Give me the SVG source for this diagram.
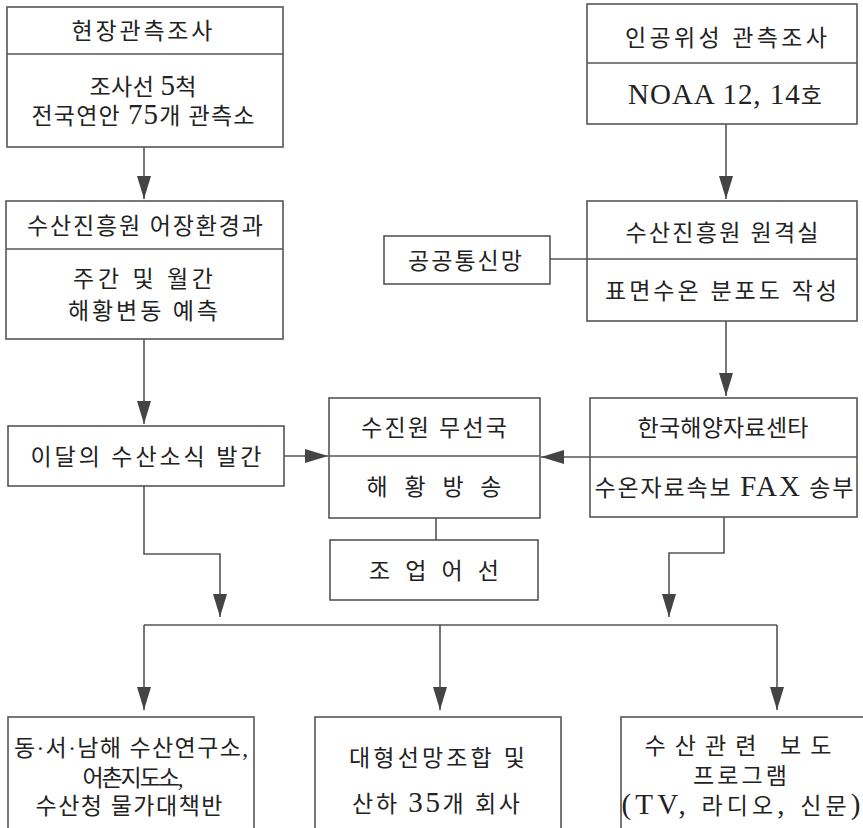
<svg xmlns="http://www.w3.org/2000/svg" width="863" height="828" viewBox="0 0 863 828">
<defs>
<style>
.bx{fill:#fff;stroke:#555;stroke-width:1.6}
.dv{stroke:#555;stroke-width:1.6;fill:none}
.cn{stroke:#555;stroke-width:1.6;fill:none}
.ar{marker-end:url(#ah)}
text{font-family:"Liberation Serif","Noto Sans CJK KR",serif;font-size:23px;fill:#222;text-anchor:middle}
.L{font-size:29px}
</style>
<marker id="ah" markerWidth="24" markerHeight="14" refX="23" refY="7" orient="auto" markerUnits="userSpaceOnUse">
<path d="M0,0 L23,7 L0,14 z" fill="#444"/>
</marker>
</defs>
<rect width="863" height="828" fill="#fff"/>

<g id="connectors">
<line class="cn ar" x1="144" y1="147" x2="144" y2="199"/>
<line class="cn ar" x1="726" y1="124" x2="726" y2="199"/>
<line class="cn" x1="550" y1="259" x2="587" y2="259"/>
<line class="cn ar" x1="144" y1="339" x2="144" y2="424"/>
<line class="cn ar" x1="726" y1="321" x2="726" y2="396"/>
<line class="cn ar" x1="284" y1="456" x2="328" y2="456"/>
<line class="cn ar" x1="590" y1="457" x2="541" y2="457"/>
<line class="cn" x1="436" y1="518" x2="436" y2="540"/>
<polyline class="cn ar" points="144,486 144,554 220,554 220,617"/>
<polyline class="cn ar" points="724,517 724,553 669,553 669,617"/>
<line class="cn" x1="144" y1="625" x2="777" y2="625"/>
<line class="cn ar" x1="144" y1="625" x2="144" y2="710"/>
<line class="cn ar" x1="440" y1="625" x2="440" y2="710"/>
<line class="cn ar" x1="777" y1="625" x2="777" y2="710"/>
</g>

<g id="n_field">
<rect class="bx" x="7" y="7" width="276" height="140"/>
<line class="dv" x1="7" y1="54" x2="283" y2="54"/>
<text x="142" y="39" textLength="141" lengthAdjust="spacing">현장관측조사</text>
<text x="143" y="95" textLength="107" lengthAdjust="spacing">조사선 <tspan class="L">5</tspan>척</text>
<text x="143" y="124" textLength="223" lengthAdjust="spacing">전국연안 <tspan class="L">75</tspan>개 관측소</text>
</g>

<g id="n_sat">
<rect class="bx" x="587" y="4" width="270" height="120"/>
<line class="dv" x1="587" y1="63" x2="857" y2="63"/>
<text x="726" y="46" textLength="202" lengthAdjust="spacing">인공위성 관측조사</text>
<text x="725" y="104" textLength="194" lengthAdjust="spacing"><tspan class="L">NOAA 12, 14</tspan>호</text>
</g>

<g id="n_env">
<rect class="bx" x="6" y="201" width="277" height="138"/>
<line class="dv" x1="6" y1="249" x2="283" y2="249"/>
<text x="145" y="234" textLength="236" lengthAdjust="spacing">수산진흥원 어장환경과</text>
<text x="143" y="287" textLength="140" lengthAdjust="spacing">주간 및 월간</text>
<text x="143" y="319" textLength="150" lengthAdjust="spacing">해황변동 예측</text>
</g>

<g id="n_remote">
<rect class="bx" x="587" y="201" width="270" height="120"/>
<line class="dv" x1="587" y1="259" x2="857" y2="259"/>
<text x="722" y="241" textLength="193" lengthAdjust="spacing">수산진흥원 원격실</text>
<text x="721" y="299" textLength="232" lengthAdjust="spacing">표면수온 분포도 작성</text>
</g>

<g id="n_net">
<rect class="bx" x="384" y="236" width="166" height="48"/>
<text x="465" y="269" textLength="114" lengthAdjust="spacing">공공통신망</text>
</g>

<g id="n_news">
<rect class="bx" x="8" y="426" width="276" height="60"/>
<text x="146" y="465" textLength="231" lengthAdjust="spacing">이달의 수산소식 발간</text>
</g>

<g id="n_radio">
<rect class="bx" x="329" y="398" width="211" height="120"/>
<line class="dv" x1="329" y1="456" x2="540" y2="456"/>
<text x="434" y="436" textLength="146" lengthAdjust="spacing">수진원 무선국</text>
<text x="434" y="495" textLength="135" lengthAdjust="spacing">해 황 방 송</text>
</g>

<g id="n_kodc">
<rect class="bx" x="590" y="398" width="267" height="119"/>
<line class="dv" x1="590" y1="457" x2="857" y2="457"/>
<text x="723" y="436" textLength="171" lengthAdjust="spacing">한국해양자료센타</text>
<text x="724" y="496" textLength="259" lengthAdjust="spacing">수온자료속보 <tspan class="L">FAX</tspan> 송부</text>
</g>

<g id="n_vessel">
<rect class="bx" x="330" y="540" width="208" height="60"/>
<text x="434" y="579" textLength="130" lengthAdjust="spacing">조 업 어 선</text>
</g>

<g id="n_inst">
<rect class="bx" x="8" y="717" width="246" height="120"/>
<text x="131" y="756" textLength="234" lengthAdjust="spacing">동·서·남해 수산연구소,</text>
<text x="133" y="786" textLength="101" lengthAdjust="spacing">어촌지도소,</text>
<text x="129" y="814" textLength="187" lengthAdjust="spacing">수산청 물가대책반</text>
</g>

<g id="n_union">
<rect class="bx" x="315" y="717" width="246" height="120"/>
<text x="437" y="766" textLength="176" lengthAdjust="spacing">대형선망조합 및</text>
<text x="436" y="812" textLength="168" lengthAdjust="spacing">산하 <tspan class="L">35</tspan>개 회사</text>
</g>

<g id="n_media">
<rect class="bx" x="621" y="717" width="260" height="120"/>
<text x="738" y="754" textLength="187" lengthAdjust="spacing">수산관련 보도</text>
<text x="740" y="784" textLength="94" lengthAdjust="spacing">프로그램</text>
<text x="741" y="814" textLength="239" lengthAdjust="spacing"><tspan class="L">(TV, </tspan>라디오<tspan class="L">, </tspan>신문<tspan class="L">)</tspan></text>
</g>
</svg>
